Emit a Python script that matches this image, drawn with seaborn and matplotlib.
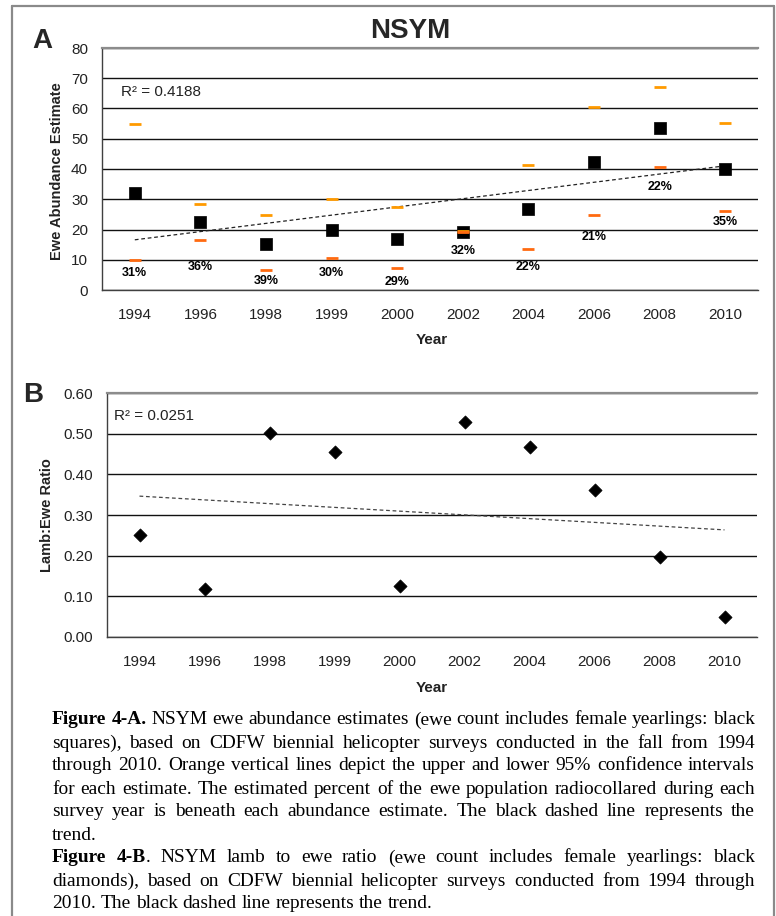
import numpy as np
import pandas as pd
import matplotlib
matplotlib.use("Agg")
import matplotlib.pyplot as plt
from matplotlib.lines import Line2D
import seaborn as sns

# ---- survey data -------------------------------------------------------
years = ["1994", "1996", "1998", "1999", "2000", "2002", "2004", "2006", "2008", "2010"]
ewe_estimate = [32.0, 22.4, 15.2, 19.8, 17.0, 19.2, 26.8, 42.3, 53.5, 40.0]
ci_upper = [54.8, 28.4, 24.7, 30.1, 27.5, 19.6, 41.4, 60.5, 67.2, 55.2]
ci_lower = [9.9, 16.5, 6.6, 10.6, 7.2, 19.2, 13.4, 24.7, 40.6, 26.0]
pct_collared = ["31%", "36%", "39%", "30%", "29%", "32%", "22%", "21%", "22%", "35%"]
lamb_ewe_ratio = [0.250, 0.118, 0.501, 0.454, 0.125, 0.528, 0.467, 0.361, 0.196, 0.049]
r2_text = ["R\u00b2 = 0.4188", "R\u00b2 = 0.0251"]

# pixel drop of each percent label beneath its lower bound
pct_label_drop_px = [13, 27, 11, 15, 14, 19, 18, 22, 20, 11]

df = pd.DataFrame({
    "year": years,
    "pos": np.arange(len(years)),
    "ewe": ewe_estimate,
    "upper": ci_upper,
    "lower": ci_lower,
    "ratio": lamb_ewe_ratio,
})

# ---- style ---------------------------------------------------------------
sns.set_style("white")
plt.rcParams["font.family"] = ["Liberation Sans", "DejaVu Sans"]

W, H = 776, 916
fig = plt.figure(figsize=(W / 100, H / 100), dpi=100)


def px_box(left, top, right, bottom):
    return [left / W, 1 - bottom / H, (right - left) / W, (bottom - top) / H]


axA = fig.add_axes(px_box(102, 48, 758, 290))
axB = fig.add_axes(px_box(107, 393, 757, 637))

GRID = "#111111"
SPINE = "#404040"
TOP = "#8c8c8c"
TICK_TXT = "#222222"


def style_axis(ax, ymax, step, fmt):
    ax.set_xlim(-0.5, len(years) - 0.5)
    ax.set_ylim(0, ymax)
    ticks = np.arange(0, ymax + step / 2, step)
    ax.set_yticks(ticks)
    ax.set_yticklabels([fmt.format(t) for t in ticks], fontsize=11, color=TICK_TXT)
    ax.set_xticks(df["pos"])
    ax.set_xticklabels(years, fontsize=11, color=TICK_TXT)
    ax.set_xticks(np.arange(-0.5, len(years)), minor=True)
    ax.tick_params(axis="x", which="major", length=0, pad=13)
    ax.tick_params(axis="x", which="minor", length=5, width=1, color=SPINE, direction="out")
    ax.tick_params(axis="y", which="major", length=5, width=1, color=SPINE, direction="out", pad=5)
    ax.set_axisbelow(True)
    ax.yaxis.grid(True, color=GRID, lw=1.0)
    ax.xaxis.grid(False)
    ax.spines["right"].set_visible(False)
    ax.spines["top"].set_color(TOP)
    ax.spines["top"].set_linewidth(1.6)
    ax.spines["top"].set_zorder(3)
    for s in ("left", "bottom"):
        ax.spines[s].set_color(SPINE)
        ax.spines[s].set_linewidth(1.0)


# ---- panel A: ewe abundance ---------------------------------------------
sns.regplot(data=df, x="pos", y="ewe", ax=axA, scatter=False, ci=None, truncate=True,
            line_kws=dict(color="#222222", lw=0.9, ls=(0, (3, 2.2))))
sns.scatterplot(data=df, x="pos", y="ewe", ax=axA, marker="s", s=80, color="black",
                edgecolor="black", linewidth=0.5, zorder=4, legend=False)
sns.scatterplot(data=df, x="pos", y="upper", ax=axA, marker="_", s=80, color="#ff9a00",
                linewidth=2.0, zorder=5, legend=False)
sns.scatterplot(data=df, x="pos", y="lower", ax=axA, marker="_", s=80, color="#ff6a10",
                linewidth=2.0, zorder=5, legend=False)
for x, y, lab, drop in zip(df["pos"], df["lower"], pct_collared, pct_label_drop_px):
    axA.annotate(lab, (x, y), xytext=(0, -drop * 0.72), textcoords="offset points",
                 ha="center", va="center", fontsize=9, fontweight="bold", color="black")
style_axis(axA, 80, 10, "{:.0f}")
axA.text(0.029, 0.818, r2_text[0], transform=axA.transAxes, fontsize=11,
         color=TICK_TXT, ha="left", va="center")
axA.set_ylabel("Ewe Abundance Estimate", fontsize=10.5, fontweight="bold", color=TICK_TXT)
axA.yaxis.set_label_coords(-0.058, 0.49)
axA.set_xlabel("Year", fontsize=11, fontweight="bold", color=TICK_TXT)
axA.xaxis.set_label_coords(0.503, -0.178)

# ---- panel B: lamb to ewe ratio -------------------------------------------
sns.regplot(data=df, x="pos", y="ratio", ax=axB, scatter=False, ci=None, truncate=True,
            line_kws=dict(color="#444444", lw=0.9, ls=(0, (3, 2.2))))
sns.scatterplot(data=df, x="pos", y="ratio", ax=axB, marker="D", s=45, color="black",
                edgecolor="black", linewidth=0.5, zorder=4, legend=False)
style_axis(axB, 0.6, 0.1, "{:.2f}")
axB.text(0.011, 0.906, r2_text[1], transform=axB.transAxes, fontsize=11,
         color=TICK_TXT, ha="left", va="center")
axB.set_ylabel("Lamb:Ewe Ratio", fontsize=10.5, fontweight="bold", color=TICK_TXT)
axB.yaxis.set_label_coords(-0.0815, 0.5)
axB.set_xlabel("Year", fontsize=11, fontweight="bold", color=TICK_TXT)
axB.xaxis.set_label_coords(0.5, -0.18)

# ---- headings --------------------------------------------------------------
fig.text(410 / W, 1 - 31 / H, "NSYM", fontsize=20, fontweight="bold", ha="center", va="center")
fig.text(42 / W, 1 - 41 / H, "A", fontsize=20, fontweight="bold", ha="center", va="center")
fig.text(33 / W, 1 - 395 / H, "B", fontsize=20, fontweight="bold", ha="center", va="center")

# ---- outer frame -------------------------------------------------------------
frame_kw = dict(color="#8a8a8a", lw=1.6, transform=fig.transFigure)
fig.add_artist(Line2D([12 / W, 774 / W], [1 - 6 / H, 1 - 6 / H], **frame_kw))
fig.add_artist(Line2D([12 / W, 12 / W], [1 - 6 / H, 0], **frame_kw))
fig.add_artist(Line2D([774 / W, 774 / W], [1 - 6 / H, 0], **frame_kw))

# ---- justified caption -------------------------------------------------------
caption_lines = [
    ([("Figure 4-A.", True)], "NSYM ewe abundance estimates (ewe count includes female yearlings: black", True),
    ([], "squares), based on CDFW biennial helicopter surveys conducted in the fall from 1994", True),
    ([], "through 2010. Orange vertical lines depict the upper and lower 95% confidence intervals", True),
    ([], "for each estimate. The estimated percent of the ewe population radiocollared during each", True),
    ([], "survey year is beneath each abundance estimate. The black dashed line represents the", True),
    ([], "trend.", False),
    ([("Figure 4-B", True)], ". NSYM lamb to ewe ratio (ewe count includes female yearlings: black", True),
    ([], "diamonds), based on CDFW biennial helicopter surveys conducted from 1994 through", True),
    ([], "2010. The black dashed line represents the trend.", False),
]

CAP_FONT = ["Liberation Serif", "DejaVu Serif"]
x_left, x_right = 52, 755
renderer = fig.canvas.get_renderer()


def text_width(s, bold, size):
    t = fig.text(0, 0, s, fontsize=size, family=CAP_FONT,
                 fontweight="bold" if bold else "normal")
    w = t.get_window_extent(renderer=renderer).width
    t.remove()
    return w


def line_groups(bold_parts, rest):
    words = []
    for word_text, _ in bold_parts:
        for w in word_text.split(" "):
            words.append([w, True])
    rest_words = rest.split(" ")
    if rest.startswith(".") and words:
        # the bold label is followed directly by a plain period
        words.append([rest_words[0], False, "attach"])
        rest_words = rest_words[1:]
    for w in rest_words:
        words.append([w, False])
    groups = []
    for item in words:
        if len(item) == 3:
            groups[-1].append((item[0], item[1]))
        else:
            groups.append([(item[0], item[1])])
    return groups


# size the caption so the fullest justified line sets naturally across the box
base = 13.0
base_space = text_width("a a", False, base) - text_width("aa", False, base)
natural = []
for bold_parts, rest, justify in caption_lines:
    if not justify:
        continue
    g = line_groups(bold_parts, rest)
    natural.append(sum(text_width(s, b, base) for grp in g for s, b in grp) + base_space * (len(g) - 1))
CAP_SIZE = base * (x_right - x_left - 4) / max(natural)
space_w = text_width("a a", False, CAP_SIZE) - text_width("aa", False, CAP_SIZE)

for i, (bold_parts, rest, justify) in enumerate(caption_lines):
    y = 1 - (720 + 23 * i) / H
    groups = line_groups(bold_parts, rest)
    widths = [sum(text_width(s, b, CAP_SIZE) for s, b in g) for g in groups]
    if justify and len(groups) > 1:
        gap = (x_right - x_left - sum(widths)) / (len(groups) - 1)
    else:
        gap = space_w
    x = x_left
    for g, gw in zip(groups, widths):
        xx = x
        for s, b in g:
            fig.text(xx / W, y, s, fontsize=CAP_SIZE, family=CAP_FONT,
                     fontweight="bold" if b else "normal", ha="left", va="center", color="black")
            xx += text_width(s, b, CAP_SIZE)
        x += gw + gap

fig.savefig("out.png", dpi=100, facecolor="white")
